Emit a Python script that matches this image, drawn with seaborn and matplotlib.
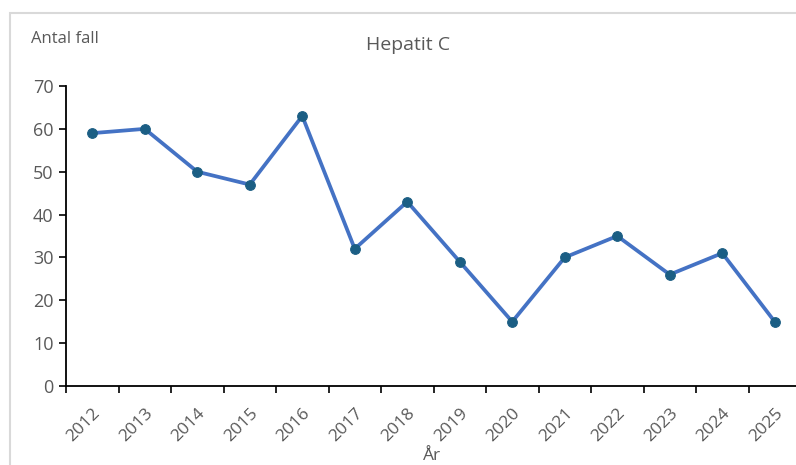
import pandas as pd
import matplotlib.pyplot as plt
import seaborn as sns
from matplotlib.patches import Rectangle
from matplotlib.ticker import FixedLocator

# Data
years = ['2012', '2013', '2014', '2015', '2016', '2017', '2018',
         '2019', '2020', '2021', '2022', '2023', '2024', '2025']
cases = [59, 60, 50, 47, 63, 32, 43, 29, 15, 30, 35, 26, 31, 15]

df = pd.DataFrame({'year': years, 'cases': cases})

sns.set_style('white')
plt.rcParams['font.family'] = ['Open Sans', 'DejaVu Sans']

text_col = '#595959'

fig = plt.figure(figsize=(7.96, 4.65), dpi=100)
ax = fig.add_axes([66 / 796, 79 / 465, 735 / 796, 300 / 465])

sns.lineplot(data=df, x='year', y='cases', ax=ax, color='#4472C4',
             linewidth=2.7, marker='o', markersize=7,
             markerfacecolor='#1B5E84', markeredgecolor='#1B5E84')

ax.set_xlim(-0.5, len(years) - 0.5)
ax.set_ylim(0, 70)
ax.set_yticks(range(0, 71, 10))

# category ticks between categories, labels at centres
ax.set_xticks(range(len(years)))
ax.set_xticklabels(years, rotation=45, ha='right', va='top',
                   rotation_mode='anchor', fontsize=12.5, color=text_col)
ax.xaxis.set_minor_locator(FixedLocator([i - 0.5 for i in range(len(years) + 1)]))
ax.tick_params(axis='x', which='major', length=0, pad=14)
ax.tick_params(axis='x', which='minor', length=5, width=1.2, color='black',
               direction='out', bottom=True)
ax.tick_params(axis='y', length=5, width=1.2, color='black', direction='out',
               left=True, labelsize=13, labelcolor=text_col, pad=4)

for side in ['top', 'right']:
    ax.spines[side].set_visible(False)
for side in ['left', 'bottom']:
    ax.spines[side].set_color('black')
    ax.spines[side].set_linewidth(1.3)

ax.set_xlabel('')
ax.set_ylabel('')

fig.text(408 / 796, 1 - 45 / 465, 'Hepatit C', ha='center', va='center',
         fontsize=14, color=text_col)
fig.text(31 / 796, 1 - 39 / 465, 'Antal fall', ha='left', va='center',
         fontsize=12, color=text_col)
fig.text(432 / 796, 1 - 456 / 465, 'År', ha='center', va='center',
         fontsize=12.5, color=text_col)

# light chart-area border
fig.patches.append(Rectangle((10 / 796, -0.01), 1.0, 1 - 13 / 465 + 0.01,
                             transform=fig.transFigure, fill=False,
                             edgecolor='#D9D9D9', linewidth=1.5))

fig.savefig('out.png', dpi=100)
